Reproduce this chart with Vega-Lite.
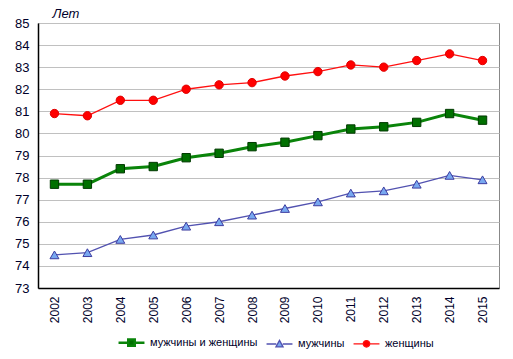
{
  "$schema": "https://vega.github.io/schema/vega-lite/v6.json",
  "width": 461,
  "height": 265,
  "autosize": "none",
  "padding": {"left": 38, "top": 23, "right": 14, "bottom": 71},
  "background": "white",
  "config": {
    "font": "Liberation Sans",
    "view": {"stroke": "#888888", "strokeWidth": 1}
  },
  "data": {
    "values": [
      {"year": "2002", "series": "мужчины и женщины", "v": 77.7},
      {"year": "2003", "series": "мужчины и женщины", "v": 77.7},
      {"year": "2004", "series": "мужчины и женщины", "v": 78.4},
      {"year": "2005", "series": "мужчины и женщины", "v": 78.5},
      {"year": "2006", "series": "мужчины и женщины", "v": 78.9},
      {"year": "2007", "series": "мужчины и женщины", "v": 79.1},
      {"year": "2008", "series": "мужчины и женщины", "v": 79.4},
      {"year": "2009", "series": "мужчины и женщины", "v": 79.6},
      {"year": "2010", "series": "мужчины и женщины", "v": 79.9},
      {"year": "2011", "series": "мужчины и женщины", "v": 80.2},
      {"year": "2012", "series": "мужчины и женщины", "v": 80.3},
      {"year": "2013", "series": "мужчины и женщины", "v": 80.5},
      {"year": "2014", "series": "мужчины и женщины", "v": 80.9},
      {"year": "2015", "series": "мужчины и женщины", "v": 80.6},
      {"year": "2002", "series": "мужчины", "v": 74.5},
      {"year": "2003", "series": "мужчины", "v": 74.6},
      {"year": "2004", "series": "мужчины", "v": 75.2},
      {"year": "2005", "series": "мужчины", "v": 75.4},
      {"year": "2006", "series": "мужчины", "v": 75.8},
      {"year": "2007", "series": "мужчины", "v": 76.0},
      {"year": "2008", "series": "мужчины", "v": 76.3},
      {"year": "2009", "series": "мужчины", "v": 76.6},
      {"year": "2010", "series": "мужчины", "v": 76.9},
      {"year": "2011", "series": "мужчины", "v": 77.3},
      {"year": "2012", "series": "мужчины", "v": 77.4},
      {"year": "2013", "series": "мужчины", "v": 77.7},
      {"year": "2014", "series": "мужчины", "v": 78.1},
      {"year": "2015", "series": "мужчины", "v": 77.9},
      {"year": "2002", "series": "женщины", "v": 80.9},
      {"year": "2003", "series": "женщины", "v": 80.8},
      {"year": "2004", "series": "женщины", "v": 81.5},
      {"year": "2005", "series": "женщины", "v": 81.5},
      {"year": "2006", "series": "женщины", "v": 82.0},
      {"year": "2007", "series": "женщины", "v": 82.2},
      {"year": "2008", "series": "женщины", "v": 82.3},
      {"year": "2009", "series": "женщины", "v": 82.6},
      {"year": "2010", "series": "женщины", "v": 82.8},
      {"year": "2011", "series": "женщины", "v": 83.1},
      {"year": "2012", "series": "женщины", "v": 83.0},
      {"year": "2013", "series": "женщины", "v": 83.3},
      {"year": "2014", "series": "женщины", "v": 83.6},
      {"year": "2015", "series": "женщины", "v": 83.3}
    ]
  },
  "encoding": {
    "x": {
      "field": "year",
      "type": "ordinal",
      "scale": {"type": "point", "padding": 0.5},
      "axis": {
        "title": null,
        "labelAngle": -90,
        "labelAlign": "right",
        "labelBaseline": "middle",
        "labelPadding": 8,
        "labelFontSize": 12,
        "labelColor": "#00002a",
        "ticks": false,
        "domainColor": "#000000",
        "domainWidth": 1.5,
        "grid": false
      }
    },
    "y": {
      "field": "v",
      "type": "quantitative",
      "scale": {"domain": [73, 85], "nice": false, "zero": false},
      "axis": {
        "values": [73, 74, 75, 76, 77, 78, 79, 80, 81, 82, 83, 84, 85],
        "title": "Лет",
        "titleAngle": 0,
        "titleAlign": "left",
        "titleBaseline": "middle",
        "titleX": 14,
        "titleY": -10,
        "titleFontStyle": "italic",
        "titleFontWeight": "normal",
        "titleFontSize": 13,
        "titleColor": "#00002a",
        "labelFontSize": 13,
        "labelColor": "#00002a",
        "labelPadding": 9,
        "ticks": false,
        "domainColor": "#000000",
        "domainWidth": 1.5,
        "gridColor": "#c0c0c0",
        "gridWidth": 1
      }
    }
  },
  "layer": [
    {
      "mark": {"type": "line"},
      "encoding": {
        "color": {
          "field": "series",
          "type": "nominal",
          "scale": {
            "domain": ["мужчины и женщины", "мужчины", "женщины"],
            "range": ["#0a840a", "#5252b0", "#ff1010"]
          },
          "legend": {
            "title": null,
            "orient": "none",
            "direction": "horizontal",
            "legendX": 78,
            "legendY": 314,
            "symbolSize": 42,
            "symbolOffset": 10,
            "labelOffset": 13,
            "columnPadding": 5,
            "labelFontSize": 11,
            "labelColor": "#00002a",
            "symbolStrokeWidth": 1.5,
            "encode": {
              "symbols": {
                "update": {
                  "shape": {"signal": "datum.value === 'мужчины и женщины' ? 'M-4,0L-1,0M1,0L4,0M-1,-1L1,-1L1,1L-1,1Z' : datum.value === 'мужчины' ? 'M-4,0L-1,0M1,0L4,0M0,-1.1L1.1,0.9L-1.1,0.9Z' : 'M-4,0L-1,0M1,0L4,0M-1,0A1,1,0,1,0,1,0A1,1,0,1,0,-1,0Z'"},
                  "fill": {"signal": "datum.value === 'мужчины и женщины' ? '#007000' : datum.value === 'мужчины' ? '#78a8f0' : '#ff0000'"},
                  "stroke": {"signal": "datum.value === 'мужчины и женщины' ? '#0a840a' : datum.value === 'мужчины' ? '#5252b0' : '#ff1010'"},
                  "strokeWidth": {"signal": "datum.value === 'мужчины и женщины' ? 2.5 : 1.3"},
                  "opacity": {"value": 1}
                }
              }
            }
          }
        },
        "strokeWidth": {
          "condition": {"test": "datum.series === 'мужчины и женщины'", "value": 3},
          "value": 1.3
        }
      }
    },
    {
      "mark": {"type": "point", "filled": true, "opacity": 1, "strokeWidth": 1},
      "encoding": {
        "detail": {"field": "series", "type": "nominal"},
        "shape": {
          "condition": [
            {"test": "datum.series === 'мужчины и женщины'", "value": "square"},
            {"test": "datum.series === 'мужчины'", "value": "triangle-up"}
          ],
          "value": "circle"
        },
        "fill": {
          "condition": [
            {"test": "datum.series === 'мужчины и женщины'", "value": "#007000"},
            {"test": "datum.series === 'мужчины'", "value": "#78a8f0"}
          ],
          "value": "#ff0000"
        },
        "stroke": {
          "condition": [
            {"test": "datum.series === 'мужчины и женщины'", "value": "#003a00"},
            {"test": "datum.series === 'мужчины'", "value": "#3c3ca0"}
          ],
          "value": "#e00000"
        },
        "size": {
          "condition": [
            {"test": "datum.series === 'мужчины и женщины'", "value": 70},
            {"test": "datum.series === 'мужчины'", "value": 80}
          ],
          "value": 70
        }
      }
    }
  ]
}
